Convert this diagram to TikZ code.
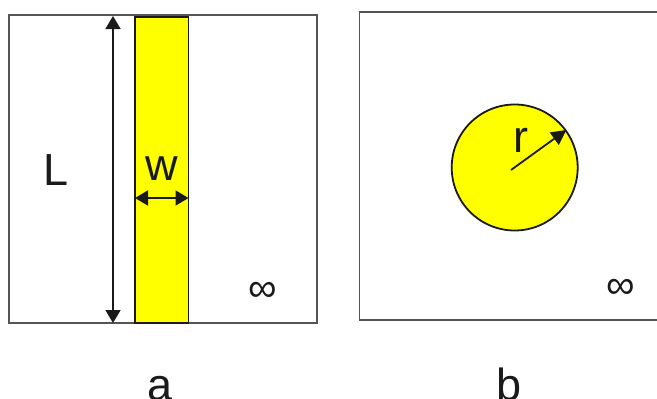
\documentclass[tikz,border=0pt]{standalone}
\usepackage{fontspec}
\setmainfont{Liberation Sans}
\usetikzlibrary{arrows.meta}
\definecolor{boxgray}{HTML}{555555}
\definecolor{fillyellow}{HTML}{FFFF00}
\definecolor{ink}{HTML}{1A1A1A}
\tikzset{
  frame/.style={draw=boxgray, line width=1.6pt},
  conductor/.style={draw=ink, fill=fillyellow, line width=1.8pt},
  dimarrow/.style={draw=ink, line width=1.8pt, {Triangle[length=13pt,width=15pt]}-{Triangle[length=13pt,width=15pt]}},
  radarrow/.style={draw=ink, line width=1.8pt, -{Triangle[length=15pt,width=15pt]}},
  biglabel/.style={inner sep=0pt, anchor=base, text=ink, font=\fontsize{45}{54}\selectfont},
  inflabel/.style={inner sep=0pt, anchor=center, text=ink, font=\fontsize{40}{48}\selectfont},
}
\begin{document}
\begin{tikzpicture}[x=1pt,y=-1pt]
\useasboundingbox (0,0) rectangle (657,399);
% panel a
\draw[frame] (9,15) rectangle (317,323);
\draw[conductor] (135,17) rectangle (188.5,323);
\coordinate (Ltop) at (113,16);
\coordinate (Lbot) at (113,323);
\draw[dimarrow] (Ltop) -- (Lbot);
\coordinate (wl) at (135,198);
\coordinate (wr) at (188.5,198);
\draw[dimarrow] (wl) -- (wr);
\node[biglabel] (Llab) at (56,185) {L};
\node[biglabel] (wlab) at (162,180) {w};
\node[inflabel] (infa) at (263,292) {∞};
\node[biglabel] (alab) at (160,400) {a};
% panel b
\draw[frame] (670,12) -- (359.5,12) -- (359.5,320) -- (670,320);
\node[conductor, circle, minimum size=126pt, inner sep=0pt] (disk) at (514.7,167.5) {};
\coordinate (rc) at (511,170);
\draw[radarrow] (rc) -- (disk.36);
\node[biglabel] (rlab) at (521,152) {r};
\node[inflabel] (infb) at (621,289) {∞};
\node[biglabel] (blab) at (509,400) {b};
\end{tikzpicture}
\end{document}
